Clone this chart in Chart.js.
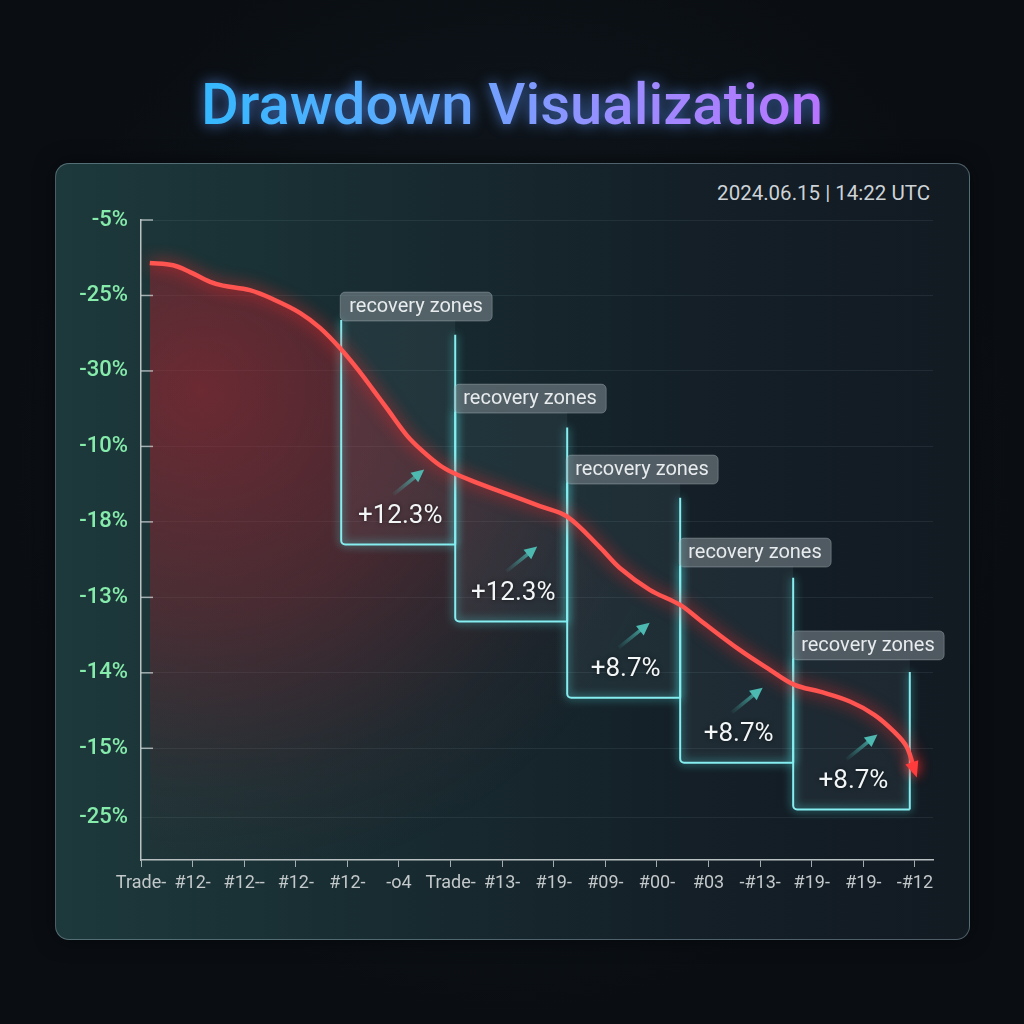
<!DOCTYPE html>
<html>
<head>
<meta charset="utf-8">
<script src="https://cdn.jsdelivr.net/npm/chart.js@4.4.1/dist/chart.umd.min.js"></script>
<style>
html, body { margin: 0; padding: 0; }
body {
    width: 1024px; height: 1024px; position: relative; overflow: hidden;
    background: radial-gradient(ellipse at 50% 45%, #111a21 0%, #0a0e13 70%);
}
#titleWrap { position: absolute; left: 0; top: 70px; width: 1024px; text-align: center; }
#title {
    display: inline-block; margin: 0;
    font: 500 58px Roboto, sans-serif;
    background: linear-gradient(90deg, #35b8ff 0%, #62a9ff 38%, #9c8cff 68%, #b874ff 100%);
    -webkit-background-clip: text; background-clip: text; color: transparent;
    filter: drop-shadow(0 0 7px rgba(90, 150, 255, 0.75));
}
#panel {
    position: absolute; left: 55px; top: 163px; width: 913px; height: 775px;
    border: 1.5px solid rgba(150, 178, 188, 0.45); border-radius: 14px;
    background: linear-gradient(90deg, #1d393b 0%, #182c31 35%, #141f27 70%, #121a22 100%);
    box-shadow: 0 0 20px rgba(0, 0, 0, 0.6);
}
#stamp {
    position: absolute; right: 94px; top: 181px;
    font: 20.5px Roboto, sans-serif; color: #cdd3d6;
}
#chart { position: absolute; left: 0; top: 0; }
</style>
</head>
<body>
<div id="titleWrap"><h1 id="title">Drawdown Visualization</h1></div>
<div id="panel"></div>
<div id="stamp">2024.06.15 | 14:22 UTC</div>
<canvas id="chart" width="1024" height="1024"></canvas>
<script>
// tick labels as printed on the axes
const yTickLabels = ['-5%', '-25%', '-30%', '-10%', '-18%', '-13%', '-14%', '-15%', '-25%'];
const yTickLevels = [0, 1, 2, 3, 4, 5, 6, 7, 7.92];
const xTickLabels = ['Trade-', '#12-', '#12--', '#12-', '#12-', '-o4', 'Trade-', '#13-', '#19-',
    '#09-', '#00-', '#03', '-#13-', '#19-', '#19-', '-#12'];

// drawdown curve, x = trade index, y = axis level (0 = top tick)
const tradeIdx = [0.17, 0.62, 0.95, 1.34, 1.59, 2.11, 2.56, 3.08, 3.47, 3.86, 4.19, 4.50, 4.77,
    5.16, 5.47, 5.79, 6.05, 6.43, 7.09, 7.73, 8.26, 8.90, 9.28, 9.86, 10.45, 10.83, 11.61,
    12.19, 12.67, 13.16, 13.74, 14.22, 14.61, 14.84, 15.00];
const ddLevel = [0.57, 0.60, 0.69, 0.82, 0.87, 0.93, 1.05, 1.23, 1.43, 1.70, 1.97, 2.25, 2.50,
    2.86, 3.07, 3.25, 3.35, 3.46, 3.63, 3.79, 3.93, 4.34, 4.61, 4.90, 5.10, 5.30, 5.70,
    5.96, 6.16, 6.25, 6.38, 6.56, 6.79, 6.98, 7.31];

// recovery zones
const zoneFrom = [3.88, 6.09, 8.26, 10.45, 12.64];
const zoneTo = [6.09, 8.26, 10.45, 12.64, 14.90];
const zoneLabelLevel = [1.14, 2.36, 3.30, 4.40, 5.63];
const zoneRightTop = [1.52, 2.75, 3.68, 4.74, 5.99];
const zoneBottom = [4.30, 5.32, 6.33, 7.19, 7.81];
const zoneGain = ['+12.3%', '+12.3%', '+8.7%', '+8.7%', '+8.7%'];

function roundRect(ctx, x, y, w, h, r) {
    ctx.beginPath();
    ctx.moveTo(x + r, y);
    ctx.arcTo(x + w, y, x + w, y + h, r);
    ctx.arcTo(x + w, y + h, x, y + h, r);
    ctx.arcTo(x, y + h, x, y, r);
    ctx.arcTo(x, y, x + w, y, r);
    ctx.closePath();
}

function drawArrow(ctx, x0, y0, x1, y1, color, head) {
    let ang = Math.atan2(y1 - y0, x1 - x0);
    let g = ctx.createLinearGradient(x0, y0, x1, y1);
    g.addColorStop(0, 'rgba(70,180,172,0.05)');
    g.addColorStop(1, color);
    ctx.strokeStyle = g;
    ctx.lineWidth = 3.5;
    ctx.beginPath();
    ctx.moveTo(x0, y0);
    ctx.lineTo(x1 - Math.cos(ang) * head * 0.6, y1 - Math.sin(ang) * head * 0.6);
    ctx.stroke();
    ctx.fillStyle = color;
    ctx.beginPath();
    ctx.moveTo(x1, y1);
    ctx.lineTo(x1 - head * Math.cos(ang - 0.45), y1 - head * Math.sin(ang - 0.45));
    ctx.lineTo(x1 - head * Math.cos(ang + 0.45), y1 - head * Math.sin(ang + 0.45));
    ctx.closePath();
    ctx.fill();
}

const zonesPlugin = {
    id: 'zones',
    beforeDatasetsDraw(chart) {
        const ctx = chart.ctx;
        const xs = chart.scales.x, ys = chart.scales.y;
        const area = chart.chartArea;
        ctx.save();

        // little inside ticks on the y axis
        ctx.strokeStyle = 'rgba(205,212,214,0.75)';
        ctx.lineWidth = 1.5;
        for (const t of ys.ticks) {
            if (t.value > 7.5) continue;
            let py = ys.getPixelForValue(t.value);
            ctx.beginPath();
            ctx.moveTo(area.left, py);
            ctx.lineTo(area.left + 12, py);
            ctx.stroke();
        }

        for (let i = 0; i < zoneFrom.length; i++) {
            let xl = xs.getPixelForValue(zoneFrom[i]);
            let xr = xs.getPixelForValue(zoneTo[i]);
            let yl = ys.getPixelForValue(zoneLabelLevel[i]);
            let yb = ys.getPixelForValue(zoneBottom[i]);
            let yt = ys.getPixelForValue(zoneRightTop[i]);

            ctx.fillStyle = 'rgba(170,210,220,0.08)';
            ctx.fillRect(xl, yl + 14, xr - xl, yb - yl - 14);

            ctx.shadowColor = 'rgba(80,235,235,0.9)';
            ctx.shadowBlur = 9;
            ctx.strokeStyle = '#86eef0';
            ctx.lineWidth = 2;
            ctx.beginPath();
            ctx.moveTo(xl, yl + 14);
            ctx.lineTo(xl, yb - 4);
            ctx.arcTo(xl, yb, xl + 4, yb, 4);
            ctx.lineTo(xr, yb);
            ctx.moveTo(xr, yt);
            ctx.lineTo(xr, yb);
            ctx.stroke();
            ctx.shadowBlur = 0;

            // label tag
            roundRect(ctx, xl - 1, yl - 14, 152, 29, 5);
            ctx.fillStyle = 'rgba(155,167,172,0.45)';
            ctx.fill();
            ctx.strokeStyle = 'rgba(200,210,214,0.3)';
            ctx.lineWidth = 1;
            ctx.stroke();
            ctx.fillStyle = '#e8ecee';
            ctx.font = '20px Roboto, sans-serif';
            ctx.textAlign = 'left';
            ctx.textBaseline = 'middle';
            ctx.fillText('recovery zones', xl + 8, yl + 1);

            // gain text and arrow
            let cx = (xl + xr) / 2 + 2;
            let ty = yb - 28;
            ctx.fillStyle = '#f3f6f7';
            ctx.font = '26px Roboto, sans-serif';
            ctx.textAlign = 'center';
            ctx.shadowColor = 'rgba(0,0,0,0.6)';
            ctx.shadowBlur = 4;
            ctx.fillText(zoneGain[i], cx, ty);
            ctx.shadowBlur = 0;
            drawArrow(ctx, cx - 7, ty - 22, cx + 24, ty - 47, '#4dbab2', 14);
        }
        ctx.restore();
    },
    beforeDatasetDraw(chart) {
        const ctx = chart.ctx;
        ctx.save();
        ctx.shadowColor = 'rgba(255,40,40,0.95)';
        ctx.shadowBlur = 16;
    },
    afterDatasetDraw(chart, args) {
        const ctx = chart.ctx;
        ctx.restore();
        // arrow head at the end of the curve
        const pts = args.meta.data;
        const a = pts[pts.length - 2], b = pts[pts.length - 1];
        let ang = Math.atan2(b.y - a.y, b.x - a.x);
        ctx.save();
        ctx.shadowColor = 'rgba(255,40,40,0.95)';
        ctx.shadowBlur = 12;
        ctx.fillStyle = '#ff3b3b';
        ctx.beginPath();
        ctx.moveTo(b.x + Math.cos(ang) * 6, b.y + Math.sin(ang) * 6);
        ctx.lineTo(b.x - 12 * Math.cos(ang - 0.6), b.y - 12 * Math.sin(ang - 0.6));
        ctx.lineTo(b.x - 12 * Math.cos(ang + 0.6), b.y - 12 * Math.sin(ang + 0.6));
        ctx.closePath();
        ctx.fill();
        ctx.restore();
    }
};

function fillGradient(context) {
    const chart = context.chart;
    const area = chart.chartArea;
    if (!area) return 'rgba(200,40,50,0.3)';
    let g = chart.ctx.createRadialGradient(200, 390, 0, 200, 390, 500);
    g.addColorStop(0, 'rgba(175,35,48,0.55)');
    g.addColorStop(0.45, 'rgba(160,35,48,0.35)');
    g.addColorStop(0.8, 'rgba(150,35,48,0.08)');
    g.addColorStop(1, 'rgba(150,35,48,0)');
    return g;
}

let points = [];
for (let i = 0; i < tradeIdx.length; i++) {
    points.push({ x: tradeIdx[i], y: ddLevel[i] });
}

const ctx = document.getElementById('chart').getContext('2d');
new Chart(ctx, {
    type: 'line',
    data: {
        datasets: [{
            data: points,
            borderColor: '#ff5450',
            borderWidth: 4.5,
            pointRadius: 0,
            tension: 0.35,
            fill: 'start',
            backgroundColor: fillGradient
        }]
    },
    options: {
        responsive: false,
        animation: false,
        layout: { padding: { top: 220, right: 91, left: 0, bottom: 0 } },
        plugins: {
            legend: { display: false },
            tooltip: { enabled: false },
            filler: { drawTime: 'beforeDatasetsDraw' }
        },
        scales: {
            x: {
                type: 'linear',
                min: 0,
                max: 15.35,
                afterFit(scale) { scale.height = 164; },
                afterBuildTicks(scale) {
                    scale.ticks = xTickLabels.map((_, i) => ({ value: i }));
                },
                grid: { drawOnChartArea: false, drawTicks: true, tickLength: 7, color: 'rgba(200,208,210,0.8)' },
                border: { color: '#b9c1c3', width: 1.5 },
                ticks: {
                    autoSkip: false,
                    maxRotation: 0,
                    padding: 6,
                    color: '#c3c8ca',
                    font: { family: 'Liberation Sans Narrow, Roboto, sans-serif', size: 18 },
                    callback: (v, i) => xTickLabels[i]
                }
            },
            y: {
                type: 'linear',
                reverse: true,
                min: 0,
                max: 8.48,
                afterFit(scale) { scale.width = 141; },
                afterBuildTicks(scale) {
                    scale.ticks = yTickLevels.map(v => ({ value: v }));
                },
                grid: { drawTicks: false, color: 'rgba(160,185,195,0.1)' },
                border: { color: '#b9c1c3', width: 1.5 },
                ticks: {
                    autoSkip: false,
                    padding: 13,
                    color: '#86ecab',
                    font: { family: 'Roboto, sans-serif', size: 22, weight: '500' },
                    callback: (v, i) => yTickLabels[i]
                }
            }
        }
    },
    plugins: [zonesPlugin]
});
</script>
</body>
</html>
